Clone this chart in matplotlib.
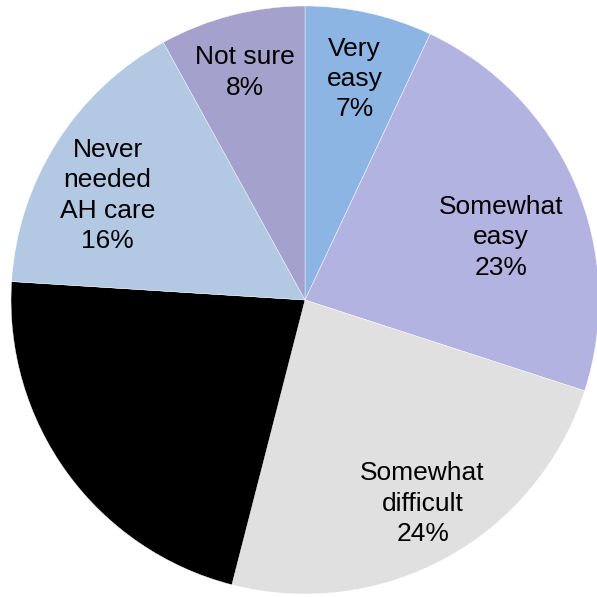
import numpy as np
import matplotlib.pyplot as plt

plt.rcParams['font.family'] = ['Liberation Sans', 'DejaVu Sans']

labels = ["Very\neasy", "Somewhat\neasy", "Somewhat\ndifficult", "Very\ndifficult",
          "Never\nneeded\nAH care", "Not sure"]
shares = [7, 23, 24, 22, 16, 8]
colors = ["#8DB5E3", "#B3B3E1", "#E0E0E0", "#000000", "#B3C8E3", "#A4A1CC"]

# label placement per slice: radius fraction and angle nudge (degrees)
label_r = [0.77, 0.70, 0.80, 0.6, 0.76, 0.80]
label_da = [0, -5.7, 1.2, 0, 4.5, 0.4]

R = 294.0
fig = plt.figure(figsize=(5.97, 5.97), dpi=100)
ax = fig.add_axes([0, 0, 1, 1])
wedges, _ = ax.pie(shares, colors=colors, startangle=90, counterclock=False,
                   radius=1.0, wedgeprops=dict(edgecolor="white", linewidth=0.3))

for w, lab, v, r, da in zip(wedges, labels, shares, label_r, label_da):
    ang = np.deg2rad((w.theta1 + w.theta2) / 2 + da)
    ax.text(r * np.cos(ang), r * np.sin(ang), f"{lab}\n{v}%", ha="center", va="center",
            fontsize=19, color="black", linespacing=1.33)

ax.set_xlim(-305 / R, (597 - 305) / R)
ax.set_ylim(-(597 - 300) / R, 300 / R)
ax.set_aspect("equal")
ax.axis("off")

fig.savefig("out.png", dpi=100)
